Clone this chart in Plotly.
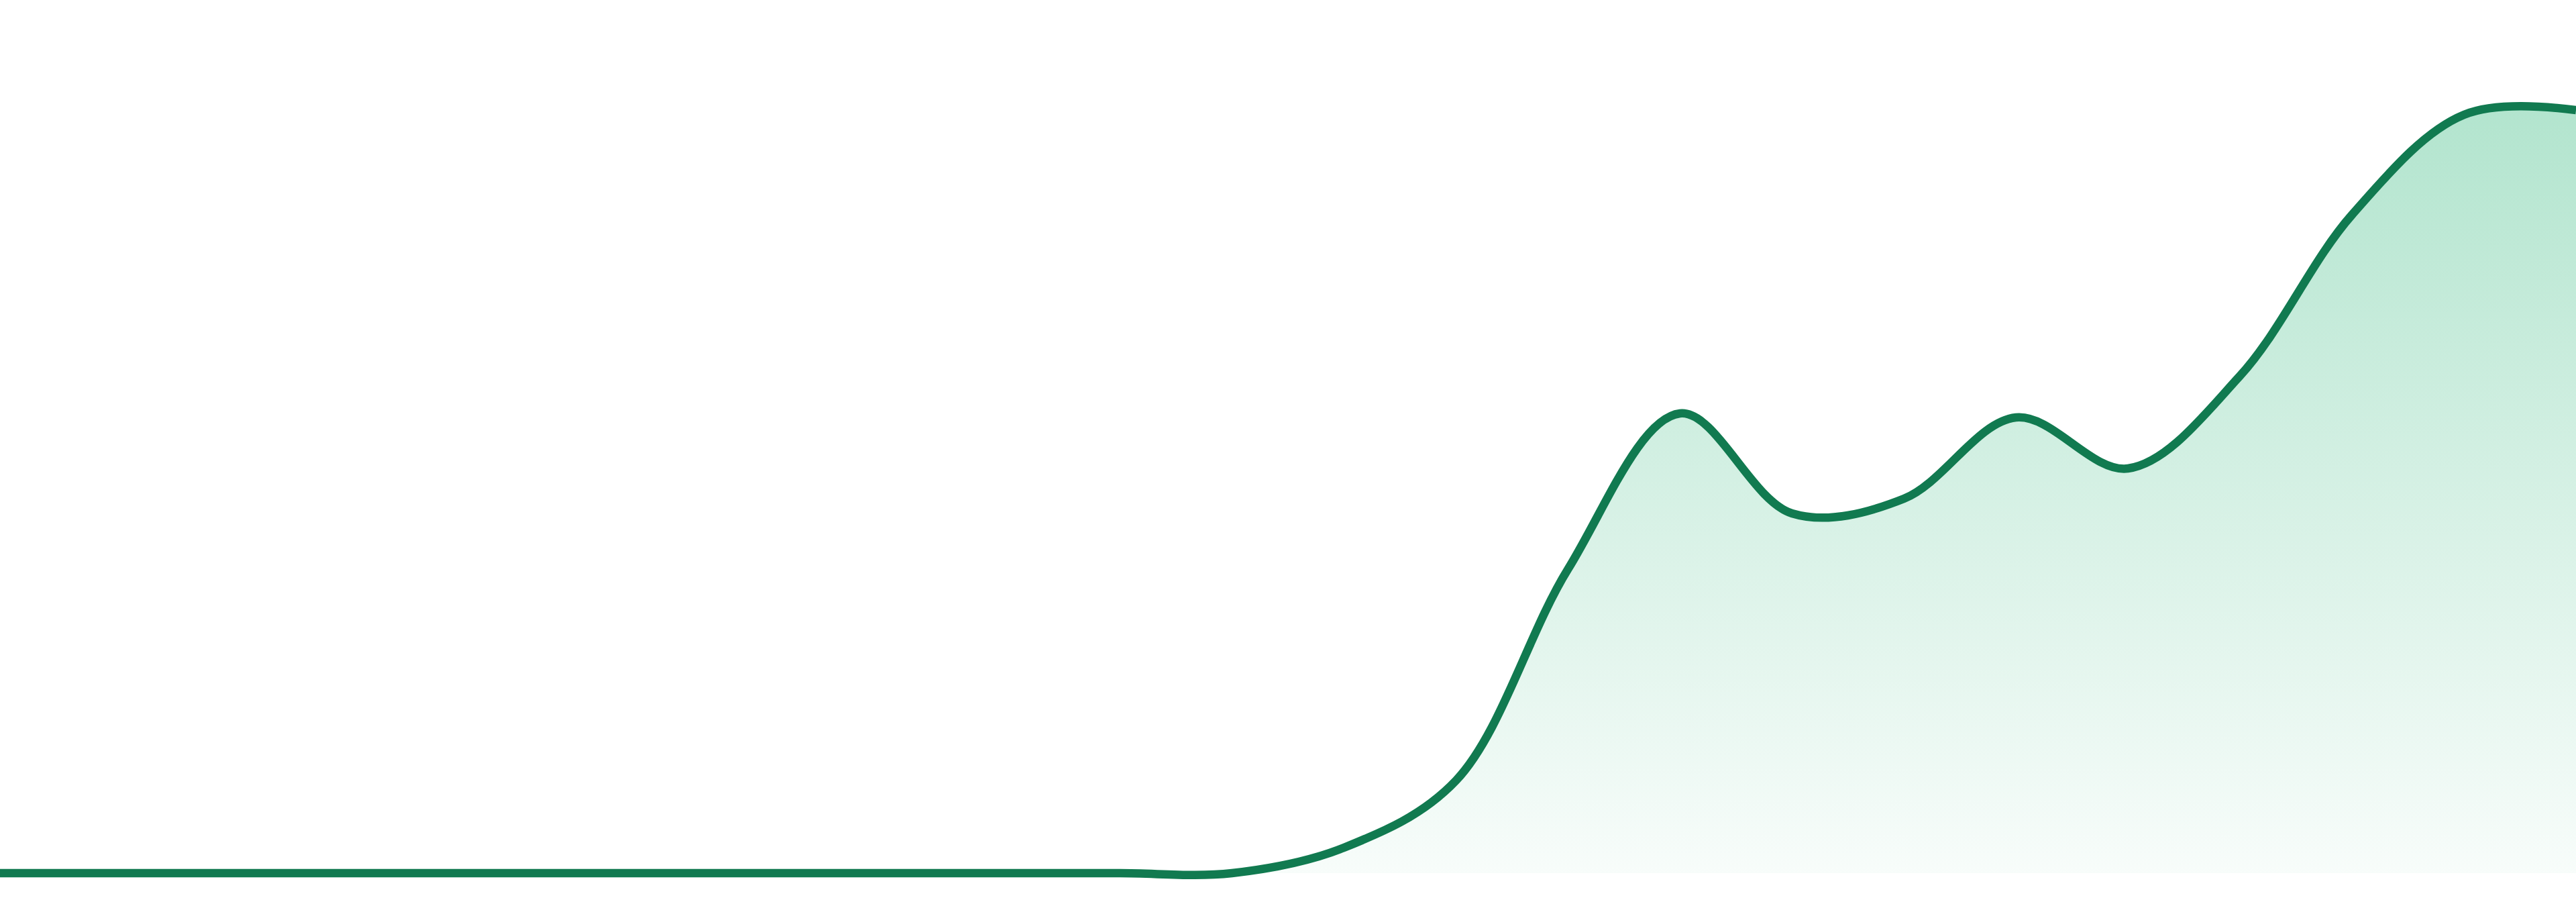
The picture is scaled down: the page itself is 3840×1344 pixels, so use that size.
import plotly.graph_objects as go

# index of each sample (24 evenly spaced points)
steps = list(range(24))
values = [0, 0, 0, 0, 0, 0, 0, 0, 0, 0, 0, 0,
          3.8, 13.8, 45.3, 68.5, 53.6, 55.8, 67.9, 60.3, 74.1, 98.1, 113.0, 113.7]

line_color = "#117a50"

fig = go.Figure()
fig.add_trace(go.Scatter(
    x=steps,
    y=values,
    mode="lines",
    line=dict(color=line_color, width=12.5, shape="spline", smoothing=1),
    fill="tozeroy",
    fillgradient=dict(
        type="vertical",
        colorscale=[[0, "rgba(15,172,102,0.03)"], [1, "rgba(15,172,102,0.32)"]],
    ),
    hoverinfo="skip",
))

fig.update_layout(
    width=3840,
    height=1344,
    margin=dict(l=0, r=0, t=0, b=0),
    paper_bgcolor="white",
    plot_bgcolor="white",
    showlegend=False,
    xaxis=dict(visible=False, range=[0, 23], fixedrange=True),
    yaxis=dict(visible=False, range=[-4.3, 130.1], fixedrange=True),
)

# drop the default page margin so the chart sits flush in the window
fig.write_html(
    "out.html",
    config={"displayModeBar": False},
    post_script="document.body.style.margin='0';document.body.style.overflow='hidden';",
)
